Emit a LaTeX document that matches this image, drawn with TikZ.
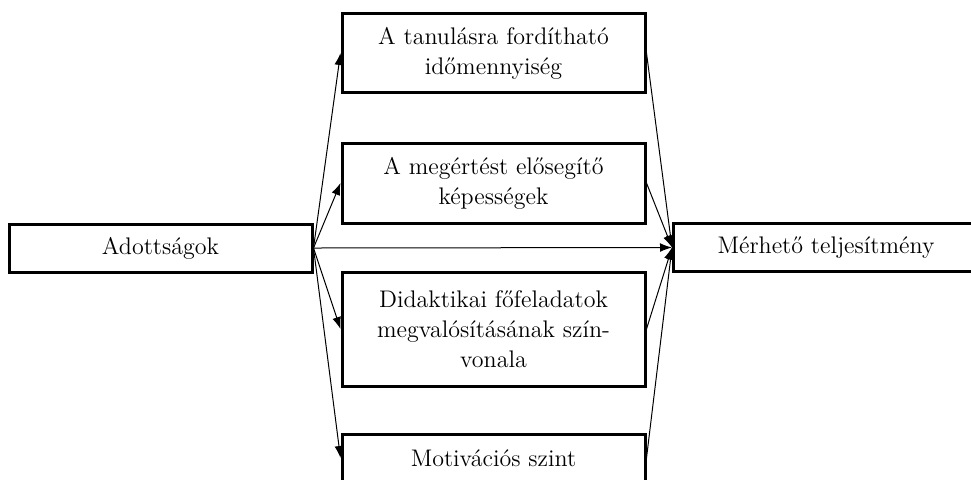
\documentclass[tikz,border=0pt]{standalone}
\usepackage{fontspec}
\usetikzlibrary{arrows.meta}

\tikzset{
  factor/.style={draw, line width=1.5pt, align=center, inner sep=0pt,
    minimum width=151.5pt, font=\fontsize{12}{15}\selectfont},
  link/.style={line width=0.5pt, -{Latex[length=6pt,width=4.4pt]}}
}

\begin{document}
\begin{tikzpicture}[x=0.5pt,y=-0.5pt]
  \clip (0,0) rectangle (971,479);
  \fill[white] (0,0) rectangle (971,479);

  % source and result
  \node[factor, minimum height=24pt] (src) at (160.5,248) {Adottságok};
  \node[factor, minimum width=152.5pt, minimum height=24pt] (res) at (826,247.5) {Mérhető teljesítmény};

  % intermediate factors
  \node[factor, minimum height=39.5pt] (f1) at (493.5,53) {A tanulásra fordítható\\időmennyiség};
  \node[factor, minimum height=40pt] (f2) at (493.5,183) {A megértést elősegítő\\képességek};
  \node[factor, minimum height=57pt] (f3) at (493.5,329) {Didaktikai főfeladatok\\megvalósításának szín-\\vonala};
  \node[factor, minimum height=24pt] (f4) at (493.5,458) {Motivációs szint};

  % connectors
  \foreach \f in {f1,f2,f3,f4} {
    \draw[link] (src.east) -- (\f.west);
    \draw[link] (\f.east) -- (res.west);
  }
  \draw[link] (src.east) -- (res.west);
\end{tikzpicture}
\end{document}
